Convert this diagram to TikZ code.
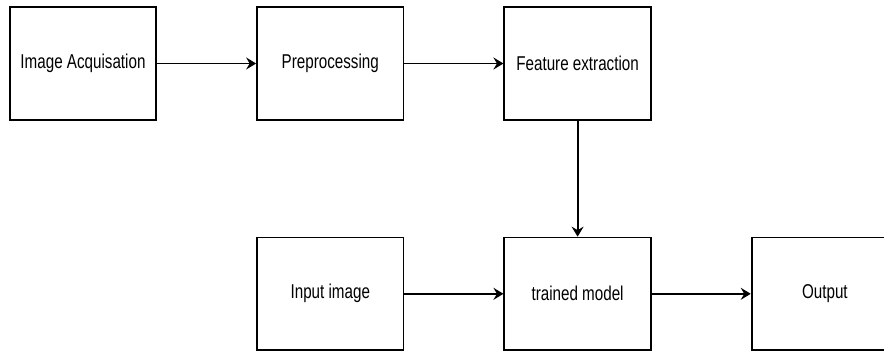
\documentclass[tikz,border=0pt]{standalone}
\usepackage{fontspec}
\newfontfamily\boxfont{Liberation Sans}[FakeStretch=0.76]
\usetikzlibrary{positioning,arrows.meta}
\tikzset{
  box/.style={draw,line width=1.8pt,minimum width=146.5pt,minimum height=112.5pt,
    font=\boxfont\fontsize{20}{23}\selectfont,inner sep=0pt},
  flow/.style={line width=1.8pt,-{Stealth[length=10pt,width=12pt,inset=3.5pt]}}
}
\begin{document}
\begin{tikzpicture}[x=1pt,y=1pt]
\useasboundingbox (0,0) rectangle (884,-351);
\node[box] (acq) at (83,-63.5) {Image Acquisation};
\node[box,right=99pt of acq] (pre) {Preprocessing};
\node[box,right=99pt of pre] (feat) {Feature extraction};
\node[box,below=116pt of feat] (model) {trained model};
\node[box,left=99pt of model] (input) {Input image};
\node[box,right=99pt of model] (out) {Output};
\draw[flow] (acq) -- (pre);
\draw[flow] (pre) -- (feat);
\draw[flow] (feat) -- (model);
\draw[flow] (input) -- (model);
\draw[flow] (model) -- (out);
\end{tikzpicture}
\end{document}
